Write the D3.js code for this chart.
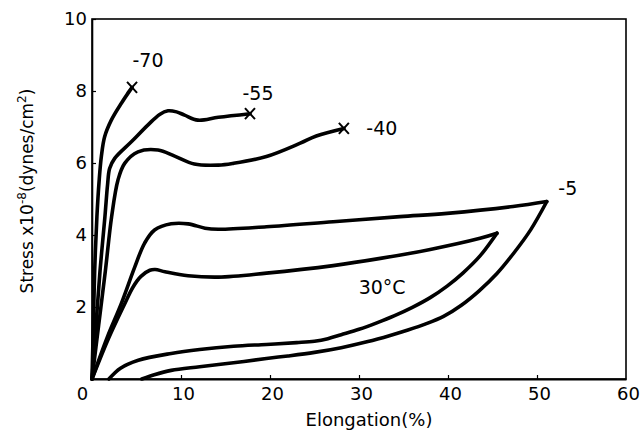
<!DOCTYPE html>
<html>
<head>
<meta charset="utf-8">
<script src="https://cdn.jsdelivr.net/npm/d3@7"></script>
<style>
  html, body { margin: 0; padding: 0; background: #fff; }
  svg text { font-family: "DejaVu Sans", sans-serif; fill: #000; }
</style>
</head>
<body>
<svg id="chart" width="642" height="431"></svg>
<script>
// Stress–strain curves at several temperatures: [elongation %, stress x1e-8 dynes/cm²]
const loadMinus70 = [[0,0],[0.15,1.5],[0.3,3.0],[0.55,4.5],[0.8,5.5],[1.05,6.18],[1.42,6.73],[2.17,7.19],[3.3,7.66],[4.5,8.1]];
const loadMinus55 = [[0,0],[0.45,1.5],[0.9,3.0],[1.45,4.5],[1.75,5.4],[1.98,5.85],[2.55,6.13],[4.42,6.59],[6.3,7.06],[7.6,7.35],[8.54,7.45],[9.5,7.42],[10.4,7.33],[11.9,7.19],[14.2,7.27],[17.75,7.37]];
const loadMinus40 = [[0,0],[0.75,1.5],[1.5,3.0],[2.2,4.5],[2.92,5.53],[3.67,5.99],[5.17,6.31],[7.42,6.36],[9.29,6.19],[11.5,5.97],[14.2,5.94],[15.9,5.99],[19.6,6.18],[23.4,6.55],[25.2,6.75],[28.3,6.96]];
const loadMinus5 = [[0,0],[1.7,1.15],[3.3,2.1],[4.79,3.1],[5.9,3.77],[7.03,4.14],[8.9,4.31],[10.8,4.31],[12.7,4.19],[14.2,4.16],[19.6,4.23],[27.1,4.37],[34.6,4.51],[39.9,4.6],[47.3,4.79],[51.1,4.93]];
const unloadMinus5 = [[51.1,4.93],[49.3,4.15],[47.4,3.5],[45.5,2.93],[43.5,2.45],[41.5,2.05],[39.5,1.74],[37.5,1.53],[35.5,1.36],[33.5,1.21],[31,1.04],[28,0.87],[25,0.74],[22,0.64],[19.6,0.57],[15.9,0.45],[12.1,0.34],[8.9,0.24],[7,0.12],[5.6,0]];
const load30 = [[0,0],[1.9,1.15],[3.6,2.05],[4.6,2.55],[5.5,2.85],[6.5,3.02],[7.1,3.04],[8.2,2.98],[10.8,2.87],[14.2,2.83],[19.6,2.94],[27.1,3.15],[32.4,3.35],[38.0,3.6],[43.6,3.91],[45.5,4.05]];
const unload30 = [[45.5,4.05],[43.6,3.42],[41.7,2.95],[39.9,2.58],[38.0,2.26],[36.0,1.99],[34.0,1.76],[32.0,1.56],[30.0,1.38],[28.0,1.23],[26.5,1.12],[25.0,1.05],[23,1.01],[19.6,0.96],[15.9,0.91],[12.1,0.82],[8.9,0.71],[5.2,0.52],[3.2,0.3],[1.9,0]];

// Break points (marked with a cross) and curve labels
const breakPoints = [[4.5,8.1],[17.75,7.37],[28.3,6.96]];
const curveLabels = ["-70","-55","-40","-5","30°C"];

const xTicks = [0,10,20,30,40,50,60];
const yTicks = [2,4,6,8,10];

const svg = d3.select("#chart");
const x = d3.scaleLinear().domain([0,60]).range([92,626]);
const y = d3.scaleLinear().domain([0,10]).range([379,19]);

// Frame
svg.append("rect")
  .attr("x", x(0)).attr("y", y(10))
  .attr("width", x(60) - x(0)).attr("height", y(0) - y(10))
  .attr("fill", "none").attr("stroke", "#000").attr("stroke-width", 1.6);

// Axes with inward ticks
const xAxis = svg.append("g")
  .attr("transform", `translate(0,${y(0)})`)
  .call(d3.axisBottom(x).tickValues(xTicks).tickSizeInner(-4).tickSizeOuter(0).tickPadding(8).tickFormat(d3.format("d")));
xAxis.select(".domain").attr("stroke-width", 2);
xAxis.selectAll("text").style("font-size", "18px")
  .attr("dx", d => d === 0 ? -10 : 2);
xAxis.selectAll(".tick line").attr("stroke-width", 1.2)
  .attr("opacity", d => (d === 0 || d === 60) ? 0 : 1);

const yAxis = svg.append("g")
  .attr("transform", `translate(${x(0)},0)`)
  .call(d3.axisLeft(y).tickValues(yTicks).tickSizeInner(-4).tickSizeOuter(0).tickPadding(5).tickFormat(d3.format("d")));
yAxis.select(".domain").attr("stroke-width", 1.6);
yAxis.selectAll("text").style("font-size", "18px");
yAxis.selectAll(".tick line").attr("stroke-width", 1.2);

// Axis titles
svg.append("text")
  .attr("x", 369).attr("y", 426)
  .attr("text-anchor", "middle")
  .style("font-size", "18px")
  .text("Elongation(%)");

const yTitle = svg.append("text")
  .attr("transform", "translate(33,191) rotate(-90)")
  .attr("text-anchor", "middle")
  .style("font-size", "17px");
yTitle.append("tspan").text("Stress x10");
yTitle.append("tspan").attr("dy", -7).style("font-size", "12px").text("-8");
yTitle.append("tspan").attr("dy", 7).text("(dynes/cm");
yTitle.append("tspan").attr("dy", -7).style("font-size", "12px").text("2");
yTitle.append("tspan").attr("dy", 7).text(")");

// Curves
const line = d3.line()
  .x(d => x(d[0])).y(d => y(d[1]))
  .curve(d3.curveCatmullRom.alpha(0.5));

const series = [loadMinus70, loadMinus55, loadMinus40, loadMinus5, unloadMinus5, load30, unload30];
svg.append("g").selectAll("path")
  .data(series)
  .join("path")
  .attr("d", line)
  .attr("fill", "none")
  .attr("stroke", "#000")
  .attr("stroke-width", 3.6)
  .attr("stroke-linecap", "round")
  .attr("stroke-linejoin", "round");

// Break markers
svg.append("g").selectAll("path")
  .data(breakPoints)
  .join("path")
  .attr("transform", d => `translate(${x(d[0])},${y(d[1])})`)
  .attr("d", "M-5,-5.5L5,5.5M-5,5.5L5,-5.5")
  .attr("stroke", "#000").attr("stroke-width", 2).attr("fill", "none");

// Curve labels, placed relative to their curve ends
const labelAnchors = [
  { p: loadMinus70[loadMinus70.length - 1], dx: 16, dy: -20 },
  { p: loadMinus55[loadMinus55.length - 1], dx: 8, dy: -14 },
  { p: loadMinus40[loadMinus40.length - 1], dx: 38, dy: 7 },
  { p: loadMinus5[loadMinus5.length - 1], dx: 21, dy: -7 },
  { p: [32.6, 2.57], dx: 0, dy: 8 }
];
svg.append("g").selectAll("text")
  .data(labelAnchors)
  .join("text")
  .attr("x", d => x(d.p[0]) + d.dx)
  .attr("y", d => y(d.p[1]) + d.dy)
  .attr("text-anchor", "middle")
  .style("font-size", "19px")
  .text((d, i) => curveLabels[i]);
</script>
</body>
</html>
